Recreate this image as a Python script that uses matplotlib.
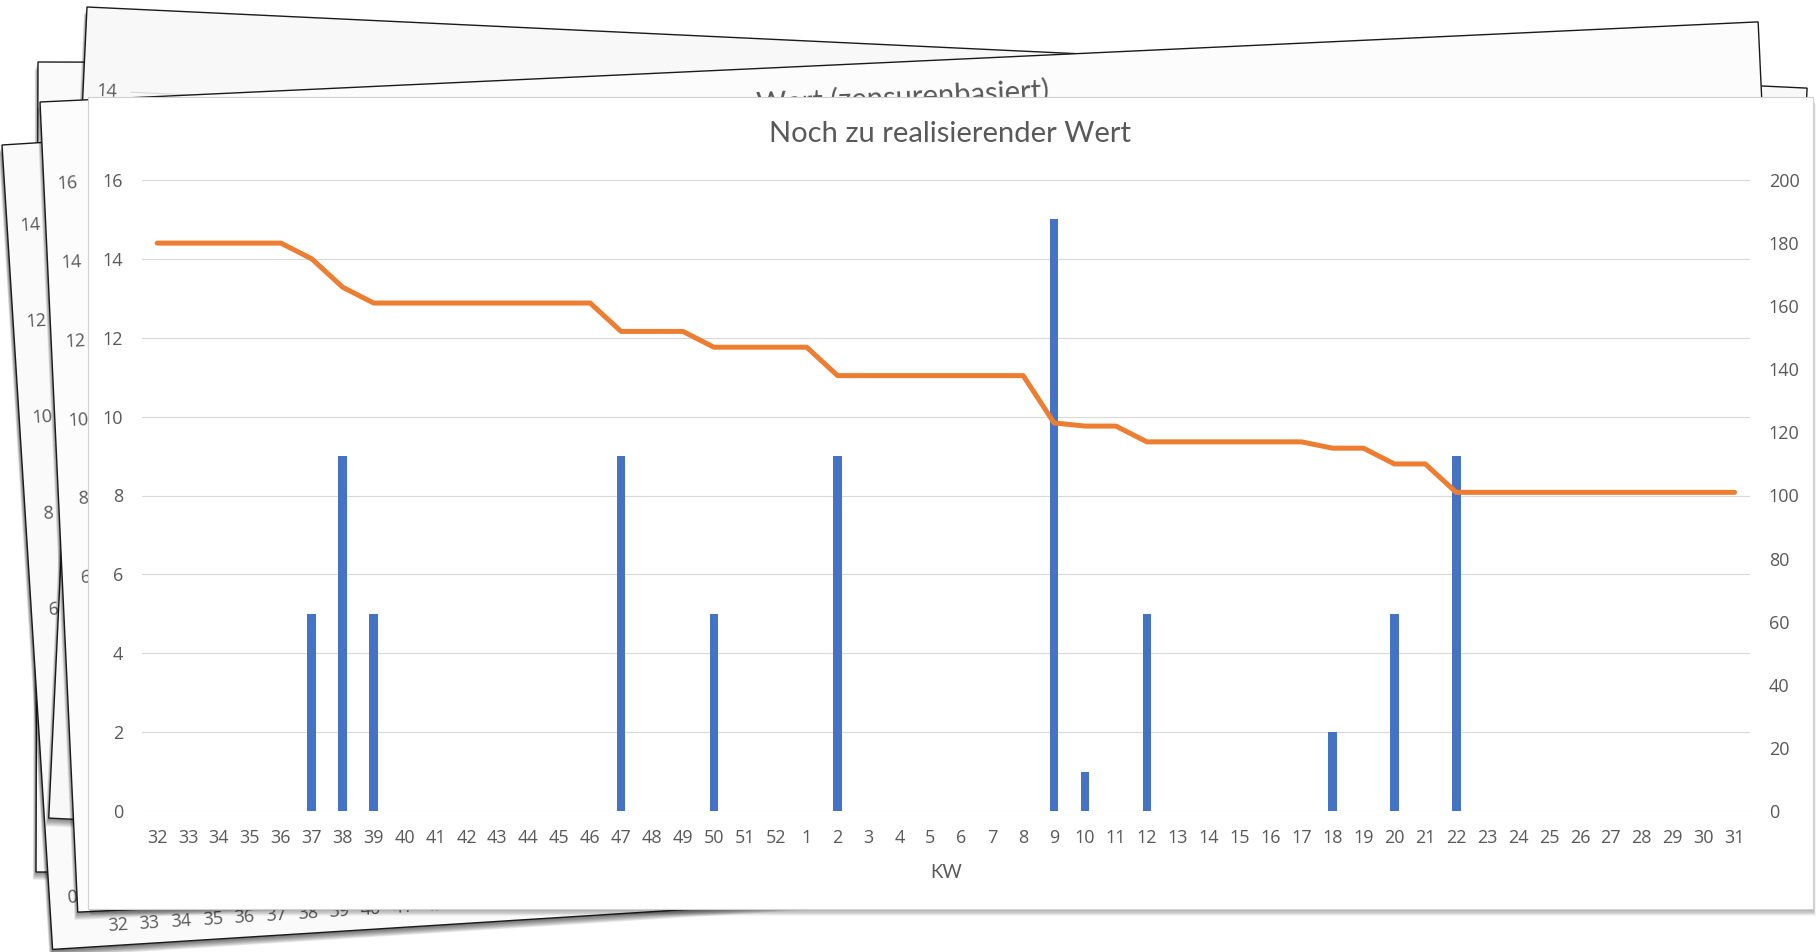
import numpy as np
import matplotlib
matplotlib.use('Agg')
import matplotlib.pyplot as plt
from matplotlib.patches import Polygon

# Kalenderwochen 32..52, 1..31
weeks = ['32', '33', '34', '35', '36', '37', '38', '39', '40', '41', '42', '43', '44',
         '45', '46', '47', '48', '49', '50', '51', '52', '1', '2', '3', '4', '5', '6',
         '7', '8', '9', '10', '11', '12', '13', '14', '15', '16', '17', '18', '19',
         '20', '21', '22', '23', '24', '25', '26', '27', '28', '29', '30', '31']

# realisierter Wert je KW (linke Achse)
wert_kw = [0, 0, 0, 0, 0, 5, 9, 5, 0, 0, 0, 0, 0, 0, 0, 9, 0, 0, 5, 0, 0, 0, 9, 0, 0, 0,
           0, 0, 0, 15, 1, 0, 5, 0, 0, 0, 0, 0, 2, 0, 5, 0, 9, 0, 0, 0, 0, 0, 0, 0, 0, 0]

# noch offener Wert (rechte Achse)
rest_wert = [180, 180, 180, 180, 180, 175, 166, 161, 161, 161, 161, 161, 161, 161, 161,
             152, 152, 152, 147, 147, 147, 147, 138, 138, 138, 138, 138, 138, 138, 123,
             122, 122, 117, 117, 117, 117, 117, 117, 115, 115, 110, 110, 101, 101, 101,
             101, 101, 101, 101, 101, 101, 101]

left_ticks = [0, 2, 4, 6, 8, 10, 12, 14, 16]
right_ticks = [0, 20, 40, 60, 80, 100, 120, 140, 160, 180, 200]

# labels on the sheets lying underneath
back_title = 'Wert (zensurenbasiert)'
back_yticks_16 = ['16', '14', '12', '10', '8', '6']
back_yticks_14 = ['14', '12', '10', '8', '6', '4', '2', '0']
back_xticks = ['32', '33', '34', '35', '36', '37', '38', '39', '40', '41', '42']

W, H = 1820, 952
GREY = '#595959'
BLUE = '#4472C4'
ORANGE = '#ED7D31'
TITLE_FONT = ['Lato', 'DejaVu Sans']

plt.rcParams['font.family'] = ['Open Sans', 'DejaVu Sans']


def page_frame(tl, ang, w, h):
    a = np.radians(ang)
    ux = np.array([np.cos(a), -np.sin(a)])
    uy = np.array([np.sin(a), np.cos(a)])
    return np.array(tl, float), ux, uy, w, h


def corners(pg):
    tl, ux, uy, w, h = pg
    return np.array([tl, tl + w * ux, tl + w * ux + h * uy, tl + h * uy])


def on_page(pg, lx, ly):
    tl, ux, uy, _, _ = pg
    return tl + lx * ux + ly * uy


def draw_sheet(ax, pg, z, face='#FAFAFA', edge='#1a1a1a', lw=1.0,
               sdx=-0.4, sdy=1.0, alpha=0.07):
    pts = corners(pg)
    for k in range(1, 9):
        ax.add_patch(Polygon(pts + np.array([sdx * k, sdy * k]), closed=True,
                             facecolor='black', edgecolor='none', alpha=alpha, zorder=z))
    ax.add_patch(Polygon(pts, closed=True, facecolor=face, edgecolor=edge,
                         linewidth=lw, zorder=z + 0.5))


fig = plt.figure(figsize=(W / 100, H / 100), dpi=100)
fig.patch.set_facecolor('white')

bg = fig.add_axes([0, 0, 1, 1])
bg.set_xlim(0, W)
bg.set_ylim(H, 0)
bg.axis('off')
bg.set_zorder(0)

sheet_c = page_frame((38, 62), -0.14, 1715, 810)
sheet_d = page_frame((2, 145), 3.6, 1720, 806)
sheet_a = page_frame((87, 7), -2.7, 1722, 812)
sheet_b = page_frame((40, 102), 2.67, 1720, 811)

draw_sheet(bg, sheet_c, 1)
draw_sheet(bg, sheet_d, 3, alpha=0.09)
for i, lab in enumerate(back_yticks_14):
    x, y = on_page(sheet_d, 23, 81.6 + i * 96.3)
    bg.text(x, y, lab, fontsize=13, color=GREY, ha='center', va='center',
            rotation=3.6, zorder=5)
for i, lab in enumerate(back_xticks):
    x, y = on_page(sheet_d, 66.8 + i * 31.7, 785.7)
    bg.text(x, y, lab, fontsize=13, color=GREY, ha='center', va='center',
            rotation=3.6, zorder=5)

draw_sheet(bg, sheet_a, 6, face='#F8F8F8')
x, y = on_page(sheet_a, 24, 83)
bg.text(x, y, '14', fontsize=13, color=GREY, ha='center', va='center',
        rotation=-2.7, zorder=8)
p0 = on_page(sheet_a, 48, 83)
p1 = on_page(sheet_a, 130, 83)
bg.plot([p0[0], p1[0]], [p0[1], p1[1]], color='#D9D9D9', lw=0.8, zorder=8)

draw_sheet(bg, sheet_b, 9, face='#FCFCFC')
for i, lab in enumerate(back_yticks_16):
    x, y = on_page(sheet_b, 24, 83 + i * 78.9)
    bg.text(x, y, lab, fontsize=13, color=GREY, ha='center', va='center',
            rotation=2.67, zorder=11)
x, y = on_page(sheet_b, 862, 36)
bg.text(x, y, back_title, fontsize=21, family=TITLE_FONT, color=GREY,
        ha='center', va='center', rotation=2.67, zorder=11)

# front sheet
front = page_frame((88, 97), 0, 1725, 812)
draw_sheet(bg, front, 12, face='white', edge='#d0d0d0', lw=0.8,
           sdx=0.35, sdy=0.9, alpha=0.045)
bg.text(950, 134, 'Noch zu realisierender Wert', fontsize=21, family=TITLE_FONT,
        color=GREY, ha='center', va='center', zorder=14)

# chart on the front sheet
x0, x1, ytop, ybot = 141.7, 1750, 180, 811
ax = fig.add_axes([x0 / W, (H - ybot) / H, (x1 - x0) / W, (ybot - ytop) / H])
ax.set_zorder(2)
ax.patch.set_visible(False)

xs = np.arange(len(weeks))
ax.bar(xs, wert_kw, width=0.28, color=BLUE, zorder=2)
ax.set_xlim(-0.5, len(weeks) - 0.5)
ax.set_ylim(0, 16)
ax.set_yticks(left_ticks)
ax.set_xticks(xs)
ax.set_xticklabels(weeks)
ax.yaxis.grid(True, color='#D9D9D9', lw=0.8)
ax.set_axisbelow(True)
for s in ax.spines.values():
    s.set_visible(False)
ax.tick_params(axis='both', length=0, labelsize=13, labelcolor=GREY)
ax.tick_params(axis='y', pad=13.5)
ax.tick_params(axis='x', pad=13)
ax.set_xlabel('KW', fontsize=13.5, family=TITLE_FONT, color=GREY, labelpad=12)

ax2 = ax.twinx()
ax2.set_zorder(3)
ax2.patch.set_visible(False)
ax2.plot(xs, rest_wert, color=ORANGE, lw=3.6, solid_capstyle='round',
         solid_joinstyle='round')
ax2.set_ylim(0, 200)
ax2.set_yticks(right_ticks)
for s in ax2.spines.values():
    s.set_visible(False)
ax2.tick_params(axis='y', length=0, labelsize=13, labelcolor=GREY, pad=13.5)

fig.savefig('out.png', dpi=100, facecolor='white')
